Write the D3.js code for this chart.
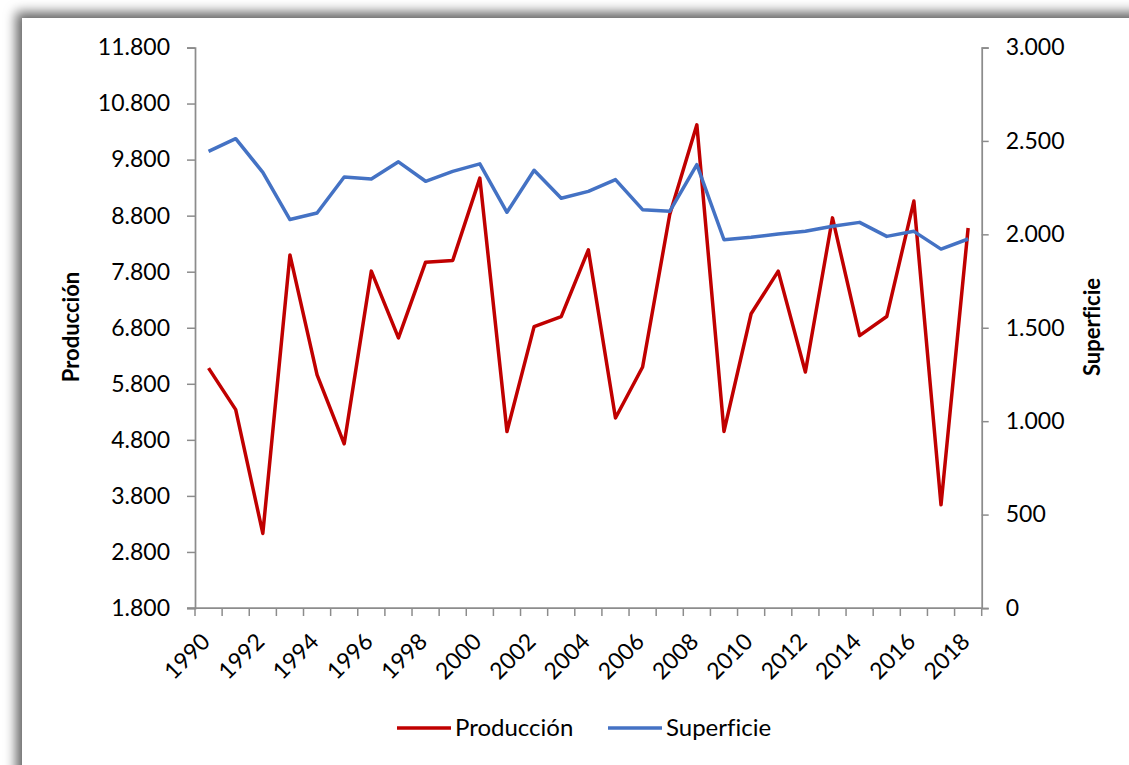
<!DOCTYPE html>
<html>
<head>
<meta charset="utf-8">
<script src="https://cdn.jsdelivr.net/npm/d3@7"></script>
<style>
  body { margin: 0; background: #fff; }
  svg { display: block; font-family: Lato, "Open Sans", sans-serif; font-variant-ligatures: none; }
</style>
</head>
<body>
<script>
const WIDTH = 1129;
const HEIGHT = 765;

// data
var years = [1990, 1991, 1992, 1993, 1994, 1995, 1996, 1997, 1998, 1999,
             2000, 2001, 2002, 2003, 2004, 2005, 2006, 2007, 2008, 2009,
             2010, 2011, 2012, 2013, 2014, 2015, 2016, 2017, 2018];
var produccion = [6080, 5340, 3130, 8100, 5960, 4730, 7810, 6620, 7970, 8000,
                  9470, 4950, 6820, 7000, 8190, 5190, 6100, 8820, 10420, 4950,
                  7050, 7810, 6010, 8760, 6660, 7000, 9060, 3640, 8580];
var superficie = [2444, 2512, 2332, 2079, 2114, 2307, 2296, 2388, 2284, 2337,
                  2377, 2118, 2343, 2193, 2230, 2293, 2132, 2123, 2373, 1971,
                  1984, 2002, 2016, 2043, 2064, 1989, 2016, 1921, 1975];
var leftTicks = [1800, 2800, 3800, 4800, 5800, 6800, 7800, 8800, 9800, 10800, 11800];
var rightTicks = [0, 500, 1000, 1500, 2000, 2500, 3000];
var yearLabels = [1990, 1992, 1994, 1996, 1998, 2000, 2002, 2004, 2006, 2008,
                  2010, 2012, 2014, 2016, 2018];

var series = [
    {name: 'Producción', values: produccion, axis: 'left', color: '#C00000'},
    {name: 'Superficie', values: superficie, axis: 'right', color: '#4472C4'}
];

var AXIS = '#8c8c8c';
var locale = d3.formatLocale({decimal: ',', thousands: '.', grouping: [3], currency: ['', '€']});
var fmt = locale.format(',d');

var svg = d3.select('body').append('svg')
    .attr('width', WIDTH)
    .attr('height', HEIGHT);

// outer frame with shadow
var defs = svg.append('defs');
var shadow = defs.append('filter').attr('id', 'shadow')
    .attr('x', '-10%').attr('y', '-10%').attr('width', '130%').attr('height', '130%');
shadow.append('feDropShadow')
    .attr('dx', -6).attr('dy', -6)
    .attr('stdDeviation', 6)
    .attr('flood-color', '#000')
    .attr('flood-opacity', 0.6);

svg.append('rect').attr('width', WIDTH).attr('height', HEIGHT).attr('fill', '#fff');
svg.append('rect')
    .attr('x', 22).attr('y', 18)
    .attr('width', 1200).attr('height', 900)
    .attr('fill', '#fff')
    .attr('filter', 'url(#shadow)');

var x = d3.scaleBand().domain(years).range([195, 981.7]).padding(0);
var yLeft = d3.scaleLinear().domain([1800, 11800]).range([608, 47.5]);
var yRight = d3.scaleLinear().domain([0, 3000]).range([608, 47.5]);

// left axis
var gl = svg.append('g').attr('transform', 'translate(195,0)')
    .call(d3.axisLeft(yLeft).tickValues(leftTicks).tickFormat(fmt).tickSizeOuter(0).tickSize(8).tickPadding(17));
// right axis
var gr = svg.append('g').attr('transform', 'translate(981.7,0)')
    .call(d3.axisRight(yRight).tickValues(rightTicks).tickFormat(fmt).tickSizeOuter(0).tickSize(7).tickPadding(17));

[gl, gr].forEach(function(g) {
    g.select('.domain').attr('stroke', AXIS).attr('stroke-width', 1.75);
    g.selectAll('.tick line').attr('stroke', AXIS).attr('stroke-width', 1.5);
    g.selectAll('.tick text')
        .attr('fill', '#000')
        .style('font-size', '23px')
        .style('font-family', 'Lato, sans-serif');
});

// bottom axis: line, ticks at category boundaries, labels every second year
var gx = svg.append('g');
gx.append('line')
    .attr('x1', 187).attr('x2', 981.7)
    .attr('y1', 608).attr('y2', 608)
    .attr('stroke', AXIS).attr('stroke-width', 1.75);
gx.selectAll('line.tk')
    .data(years.concat(['end']))
    .enter().append('line')
    .attr('class', 'tk')
    .attr('x1', function(d) { return d === 'end' ? x.range()[1] : x(d); })
    .attr('x2', function(d) { return d === 'end' ? x.range()[1] : x(d); })
    .attr('y1', 608).attr('y2', 616)
    .attr('stroke', AXIS).attr('stroke-width', 1.5);
gx.selectAll('text')
    .data(yearLabels)
    .enter().append('text')
    .attr('transform', function(d) {
        return 'translate(' + (x(d) + x.bandwidth() / 2 + 3) + ',643) rotate(-45)';
    })
    .attr('text-anchor', 'end')
    .style('font-size', '23px')
    .text(function(d) { return d; });

// axis titles
svg.append('text')
    .attr('transform', 'translate(79,327) rotate(-90)')
    .attr('text-anchor', 'middle')
    .style('font-size', '22px')
    .style('font-weight', 'bold')
    .text('Producción');
svg.append('text')
    .attr('transform', 'translate(1100,327) rotate(-90)')
    .attr('text-anchor', 'middle')
    .style('font-size', '22px')
    .style('font-weight', 'bold')
    .text('Superficie');

// lines
series.forEach(function(s) {
    var yScale = s.axis === 'left' ? yLeft : yRight;
    var line = d3.line()
        .x(function(d, i) { return x(years[i]) + x.bandwidth() / 2; })
        .y(function(d) { return yScale(d); });
    svg.append('path')
        .datum(s.values)
        .attr('d', line)
        .attr('fill', 'none')
        .attr('stroke', s.color)
        .attr('stroke-width', 3.5)
        .attr('stroke-linejoin', 'round');
});

// legend
var legendX = [397, 608];
var lg = svg.append('g').selectAll('g')
    .data(series)
    .enter().append('g')
    .attr('transform', function(d, i) { return 'translate(' + legendX[i] + ',728)'; });
lg.append('line')
    .attr('x1', 0).attr('x2', 54)
    .attr('stroke', function(d) { return d.color; })
    .attr('stroke-width', 3.5);
lg.append('text')
    .attr('x', 58)
    .attr('dy', '0.35em')
    .style('font-size', '24px')
    .text(function(d) { return d.name; });
</script>
</body>
</html>
